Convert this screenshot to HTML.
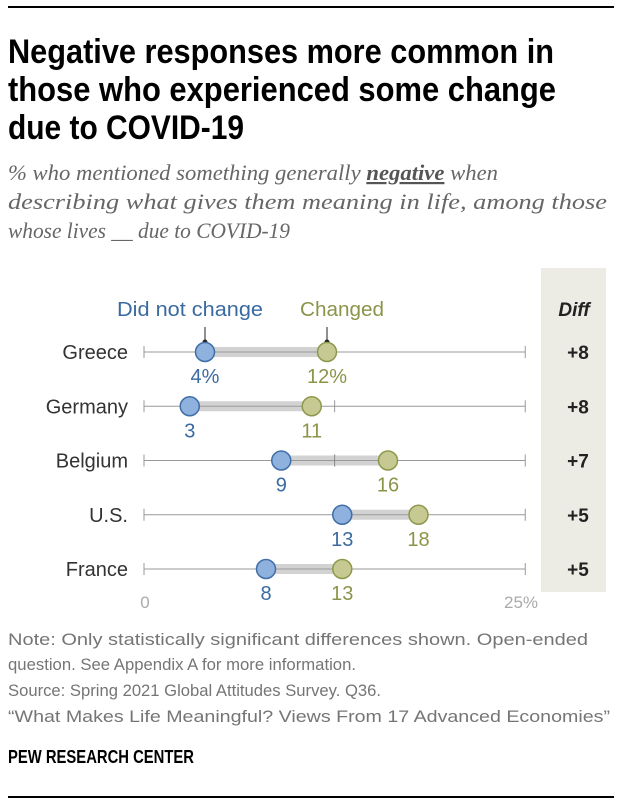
<!DOCTYPE html>
<html><head><meta charset="utf-8"><style>
html,body{margin:0;padding:0;background:#fff;}
svg{display:block;}
text{font-family:"Liberation Sans",sans-serif;}
.serif{font-family:"Liberation Serif",serif;font-style:italic;}
</style></head><body>
<svg id="chart" width="620" height="808" viewBox="0 0 620 808" xmlns="http://www.w3.org/2000/svg">
<rect x="8" y="6" width="606" height="2" fill="#000"/>
<g font-weight="bold" font-size="34" fill="#000">
<text x="8" y="63" textLength="546" lengthAdjust="spacingAndGlyphs">Negative responses more common in</text>
<text x="8" y="101" textLength="548" lengthAdjust="spacingAndGlyphs">those who experienced some change</text>
<text x="8" y="139" textLength="236" lengthAdjust="spacingAndGlyphs">due to COVID-19</text>
</g>
<g class="serif" font-size="22" fill="#666">
<text class="serif" x="8" y="180" textLength="490" lengthAdjust="spacingAndGlyphs">% who mentioned something generally <tspan font-weight="bold" fill="#555" text-decoration="underline">negative</tspan> when</text>
<text class="serif" x="8" y="209" textLength="599" lengthAdjust="spacingAndGlyphs">describing what gives them meaning in life, among those</text>
<text class="serif" x="8" y="238" textLength="282" lengthAdjust="spacingAndGlyphs">whose lives __ due to COVID-19</text>
</g>
<rect x="541" y="268" width="65" height="324" fill="#ecebe4"/>
<text x="574" y="316" text-anchor="middle" font-size="19" font-weight="bold" font-style="italic" fill="#222">Diff</text>
<text x="190" y="316" text-anchor="middle" font-size="20" fill="#3a6aa0" textLength="146" lengthAdjust="spacingAndGlyphs">Did not change</text>
<text x="342" y="316" text-anchor="middle" font-size="20" fill="#8c944a" textLength="84" lengthAdjust="spacingAndGlyphs">Changed</text>
<g id="rows"></g>
<text x="145" y="608" text-anchor="middle" font-size="17" fill="#aaa">0</text>
<text x="521" y="608" text-anchor="middle" font-size="17" fill="#aaa">25%</text>
<g font-size="17" fill="#757575">
<text x="8" y="645" textLength="580" lengthAdjust="spacingAndGlyphs">Note: Only statistically significant differences shown.  Open-ended</text>
<text x="8" y="670" textLength="348" lengthAdjust="spacingAndGlyphs">question. See Appendix A for more information.</text>
<text x="8" y="696" textLength="373" lengthAdjust="spacingAndGlyphs">Source: Spring 2021 Global Attitudes Survey. Q36.</text>
<text x="8" y="722" textLength="602" lengthAdjust="spacingAndGlyphs">“What Makes Life Meaningful? Views From 17 Advanced Economies”</text>
</g>
<text x="8" y="763" font-size="18" font-weight="bold" fill="#000" textLength="186" lengthAdjust="spacingAndGlyphs">PEW RESEARCH CENTER</text>
<rect x="8" y="796" width="606" height="2" fill="#000"/>
</svg>
<script>
const countries = ["Greece","Germany","Belgium","U.S.","France"];
const notChanged = [4,3,9,13,8];
const changed = [12,11,16,18,13];
const diffs = ["+8","+8","+7","+5","+5"];
const NS = "http://www.w3.org/2000/svg";
const x = v => 144 + v * 15.25;
const rowY = i => 352 + i * 54.25;
const g = document.getElementById('rows');
function mk(tag, attrs, parent){
  const e = document.createElementNS(NS, tag);
  for (const k in attrs) e.setAttribute(k, attrs[k]);
  (parent||g).appendChild(e); return e;
}
countries.forEach((c,i)=>{
  const y = rowY(i);
  const row = mk('g',{});
  
  
  const lab = mk('text',{x:128,y:y+7,'text-anchor':'end','font-size':20,fill:'#333'},row);
  lab.textContent = c;
  
  
  const ax = mk('line',{x1:x(0),x2:x(25),y1:y,y2:y,stroke:'#999','stroke-width':1},row);
  
  
  [0,12.5,25].forEach(t=>{
    const tk = mk('line',{x1:x(t),x2:x(t),y1:y-6,y2:y+6,stroke:'#999','stroke-width':1},row);
    
    
  });
  const bar = mk('rect',{x:x(notChanged[i]),y:y-5,width:x(changed[i])-x(notChanged[i]),height:10,fill:'#d2d2d2'},row);
  
  
  mk('line',{x1:x(notChanged[i]),x2:x(changed[i]),y1:y,y2:y,stroke:'#999','stroke-width':1},row);
  if (12.5 > notChanged[i] && 12.5 < changed[i]) mk('line',{x1:x(12.5),x2:x(12.5),y1:y-6,y2:y+6,stroke:'#888','stroke-width':1},row);
  if (i===0){
    [notChanged[i],changed[i]].forEach(v=>{
      const l = mk('line',{x1:x(v),x2:x(v),y1:y-25,y2:y-10,stroke:'#222','stroke-width':1},row);
      
      
      mk('circle',{cx:x(v),cy:y-10,r:2.5,fill:'#222'},row);
    });
  }
  const d1 = mk('circle',{cx:x(notChanged[i]),cy:y,r:9.5,fill:'#8fb1de',stroke:'#3f6ea8','stroke-width':1.5},row);
  
  
  const d2 = mk('circle',{cx:x(changed[i]),cy:y,r:9.5,fill:'#c6c992',stroke:'#8e994c','stroke-width':1.5},row);
  
  
  const v1 = mk('text',{x:x(notChanged[i]),y:y+31,'text-anchor':'middle','font-size':20,fill:'#3a6aa0'},row);
  v1.textContent = notChanged[i] + (i===0?'%':'');
  
  
  const v2 = mk('text',{x:x(changed[i]),y:y+31,'text-anchor':'middle','font-size':20,fill:'#8c944a'},row);
  v2.textContent = changed[i] + (i===0?'%':'');
  
  
  const df = mk('text',{x:578,y:y+7,'text-anchor':'middle','font-size':19,'font-weight':'bold',fill:'#222'},row);
  df.textContent = diffs[i];
  
  
});
</script>
</body></html>
